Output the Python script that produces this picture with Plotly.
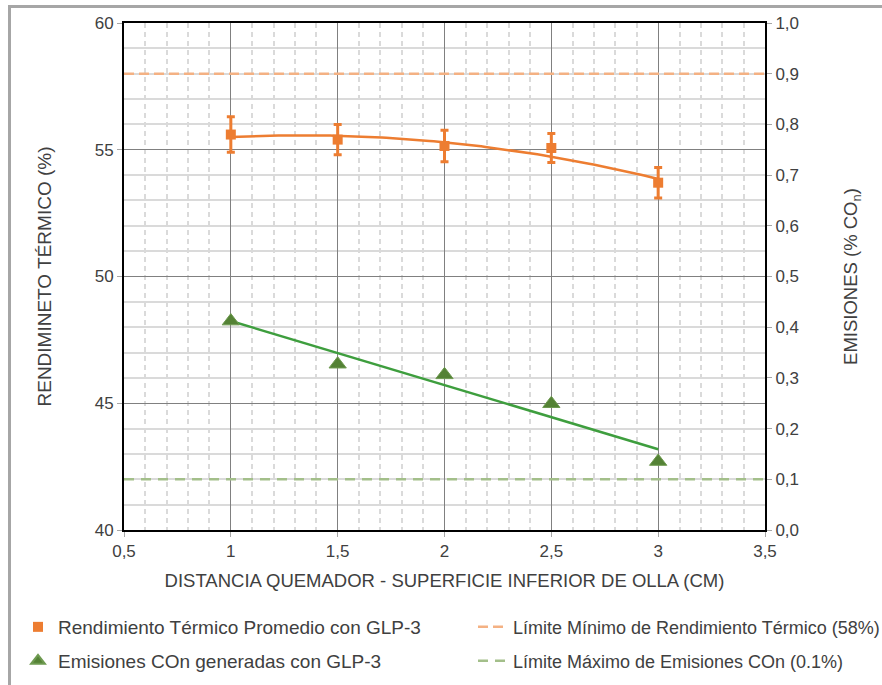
import numpy as np
import plotly.graph_objects as go

# Distancia quemador - superficie inferior de olla (cm)
distancia = [1, 1.5, 2, 2.5, 3]
# Rendimiento térmico promedio con GLP-3 (%) y su desviación
rendimiento = [55.6, 55.4, 55.15, 55.07, 53.7]
rendimiento_err = [0.7, 0.6, 0.62, 0.57, 0.6]
# Emisiones COn generadas con GLP-3 (%)
emisiones = [0.412, 0.327, 0.306, 0.249, 0.135]
# Límites normativos
limite_rendimiento = 58
limite_emisiones = 0.1
x_rango = [0.5, 3.5]

ORANGE = "#ED7D31"
ORANGE_LIGHT = "#F4B183"
GREEN_MK = "#548235"
GREEN_TR = "#3E9E3E"
GREEN_LIGHT = "#A3BF8A"
TEXT = "#404040"
FONT = "Liberation Sans, Arial, sans-serif"

W, H = 882, 685

# Líneas de tendencia: polinómica (orden 2) para rendimiento, lineal para emisiones
xt = np.linspace(min(distancia), max(distancia), 100)
tend_rend = np.polyval(np.polyfit(distancia, rendimiento, 2), xt)
tend_emis = np.polyval(np.polyfit(distancia, emisiones, 1), xt)

fig = go.Figure()

fig.add_trace(go.Scatter(
    x=xt, y=tend_rend, mode="lines", line=dict(color=ORANGE, width=2.5),
    showlegend=False, hoverinfo="skip"))
fig.add_trace(go.Scatter(
    x=distancia, y=rendimiento, mode="markers",
    name="Rendimiento Térmico Promedio con GLP-3",
    marker=dict(symbol="square", size=10, color=ORANGE),
    error_y=dict(type="data", array=rendimiento_err, color=ORANGE, thickness=3, width=4),
    legend="legend"))
fig.add_trace(go.Scatter(
    x=x_rango, y=[limite_rendimiento] * 2, mode="lines",
    name="Límite Mínimo de Rendimiento Térmico (58%)",
    line=dict(color=ORANGE_LIGHT, width=2.5, dash="10px,5px"),
    legend="legend2"))

fig.add_trace(go.Scatter(
    x=xt, y=tend_emis, mode="lines", line=dict(color=GREEN_TR, width=2.5),
    yaxis="y2", showlegend=False, hoverinfo="skip"))
fig.add_trace(go.Scatter(
    x=distancia, y=emisiones, mode="markers", yaxis="y2",
    name="Emisiones COn generadas con GLP-3",
    marker=dict(symbol="triangle-up", size=15, color=GREEN_MK,
                line=dict(color="#6E9A50", width=1)),
    legend="legend3"))
fig.add_trace(go.Scatter(
    x=x_rango, y=[limite_emisiones] * 2, mode="lines", yaxis="y2",
    name="Límite Máximo de Emisiones COn (0.1%)",
    line=dict(color=GREEN_LIGHT, width=2.5, dash="10px,7px"),
    legend="legend4"))

axis_common = dict(
    showline=True, linecolor="black", linewidth=2,
    ticks="outside", ticklen=5, tickcolor="#A6A6A6",
    tickfont=dict(family=FONT, size=17, color=TEXT),
    zeroline=False,
)


def leyenda(x_px, y_px, size, **extra):
    return dict(orientation="h", xref="container", yref="container",
                x=x_px / W, xanchor="left", y=1 - y_px / H, yanchor="middle",
                font=dict(family=FONT, size=size, color=TEXT),
                bgcolor="rgba(0,0,0,0)", borderwidth=0, **extra)


fig.update_layout(
    width=W, height=H,
    margin=dict(l=124, r=117, t=23, b=155),
    paper_bgcolor="white", plot_bgcolor="white",
    separators=", ",
    font=dict(family=FONT, size=16, color=TEXT),
    xaxis=dict(
        range=x_rango, dtick=0.5, tick0=0.5, mirror=True,
        showgrid=True, gridcolor="#808080", gridwidth=1,
        minor=dict(dtick=0.1, tick0=0.5, showgrid=True, gridcolor="#DADADA",
                   griddash="5px,4px", gridwidth=1.5, ticks=""),
        title=dict(text="DISTANCIA QUEMADOR - SUPERFICIE INFERIOR DE OLLA (CM)",
                   font=dict(family=FONT, size=18.5, color=TEXT), standoff=14),
        **axis_common),
    yaxis=dict(
        range=[40, 60], dtick=5, mirror=True,
        showgrid=True, gridcolor="#808080", gridwidth=1,
        minor=dict(dtick=1, showgrid=True, gridcolor="#DADADA", gridwidth=1.5, ticks=""),
        title=dict(text="RENDIMINETO TÉRMICO (%)",
                   font=dict(family=FONT, size=19, color=TEXT), standoff=38),
        **axis_common),
    yaxis2=dict(
        range=[0, 1], dtick=0.1, tickformat=".1f", overlaying="y", side="right",
        showgrid=False,
        title=dict(text="EMISIONES (% CO<sub>n</sub>)",
                   font=dict(family=FONT, size=18.5, color=TEXT), standoff=46),
        **axis_common),
    legend=leyenda(18, 627, 19),
    legend2=leyenda(473, 627, 18),
    legend3=leyenda(18, 661, 19, itemsizing="constant"),
    legend4=leyenda(473, 661, 18),
    shapes=[dict(type="rect", xref="paper", yref="paper",
                 x0=(9.5 - 124) / 641, x1=(895 - 124) / 641,
                 y0=(530 - 700) / 507, y1=1 + (23 - 6.5) / 507,
                 line=dict(color="#A6A6A6", width=3), layer="below")],
)

fig.write_html("out.html")
